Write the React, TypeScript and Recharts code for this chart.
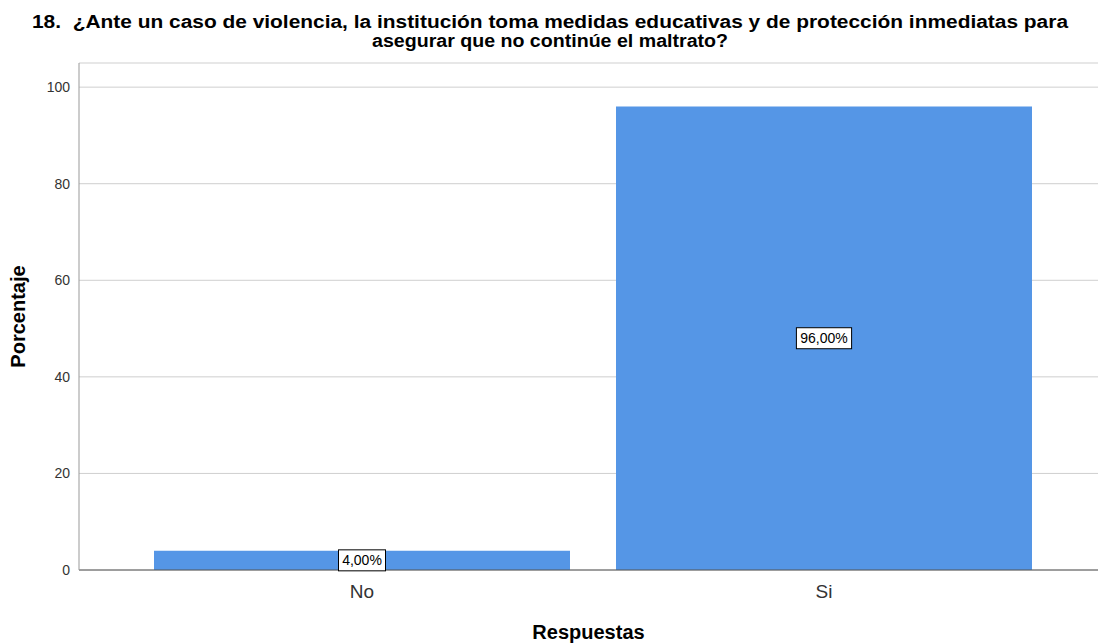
import React from 'react';
import { BarChart, Bar, XAxis, YAxis, CartesianGrid, LabelList } from 'recharts';

const categories = ['No', 'Si'];
const percentages = [4, 96];
const yTicks = [0, 20, 40, 60, 80, 100];
const titleLines = [
  '18.\u00a0\u00a0¿Ante un caso de violencia, la institución toma medidas educativas y de protección inmediatas para',
  'asegurar que no continúe el maltrato?',
];

const data = categories.map((c, i) => ({ name: c, value: percentages[i] }));

const fmt = (v: number) => v.toFixed(2).replace('.', ',') + '%';

const BoxLabel = (props: any) => {
  const { x, y, width, height, value } = props;
  const cx = x + width / 2;
  const cy = y + height / 2;
  const txt = fmt(Number(value));
  const w = txt.length * 8.2 + 6;
  const h = 21;
  return (
    <g>
      <rect x={cx - w / 2} y={cy - h / 2} width={w} height={h} fill="#ffffff" stroke="#000000" strokeWidth={1} />
      <text x={cx} y={cy + 5} textAnchor="middle" fontSize={14} fontFamily="Liberation Sans, Arial, sans-serif" fill="#000">
        {txt}
      </text>
    </g>
  );
};

export default function App() {
  return (
    <div style={{ position: 'absolute', left: 0, top: 0, width: 1098, height: 644, background: '#ffffff' }}>
      <svg width={1098} height={60} style={{ position: 'absolute', left: 0, top: 0, zIndex: 1 }}>
        <text x={550} y={28} textAnchor="middle" fontSize={18} fontWeight="bold" textLength={1036} lengthAdjust="spacingAndGlyphs" fontFamily="Liberation Sans, Arial, sans-serif" fill="#000">
          {titleLines[0]}
        </text>
        <text x={550} y={47} textAnchor="middle" fontSize={18} fontWeight="bold" textLength={356} lengthAdjust="spacingAndGlyphs" fontFamily="Liberation Sans, Arial, sans-serif" fill="#000">
          {titleLines[1]}
        </text>
      </svg>
      <BarChart
        width={1098}
        height={644}
        data={data}
        margin={{ top: 63, right: 0, bottom: 44, left: 0 }}
        style={{ fontFamily: 'Liberation Sans, Arial, sans-serif', position: 'absolute', left: 0, top: 0 }}
      >
        <CartesianGrid vertical={false} stroke="#cfcfcf" strokeWidth={1} />
        <XAxis
          dataKey="name"
          padding={{ left: 52, right: 43 }}
          axisLine={{ stroke: '#555555' }}
          tickLine={false}
          tick={{ fontSize: 19, fill: '#333333' }}
          tickMargin={9}
          label={{ value: 'Respuestas', position: 'insideBottom', offset: -39, fontSize: 20, fontWeight: 'bold', fill: '#000' } as any}
        />
        <YAxis
          domain={[0, 105]}
          ticks={yTicks}
          width={79}
          axisLine={{ stroke: '#999999' }}
          tickLine={false}
          tick={{ fontSize: 14, fill: '#333333' }}
          tickMargin={3}
          label={{ value: 'Porcentaje', angle: -90, position: 'insideLeft', offset: 18, fontSize: 20, fontWeight: 'bold', fill: '#000', style: { textAnchor: 'middle' } } as any}
        />
        <Bar dataKey="value" fill="#5596E6" barSize={416} isAnimationActive={false}>
          <LabelList dataKey="value" content={BoxLabel} />
        </Bar>
      </BarChart>
    </div>
  );
}
